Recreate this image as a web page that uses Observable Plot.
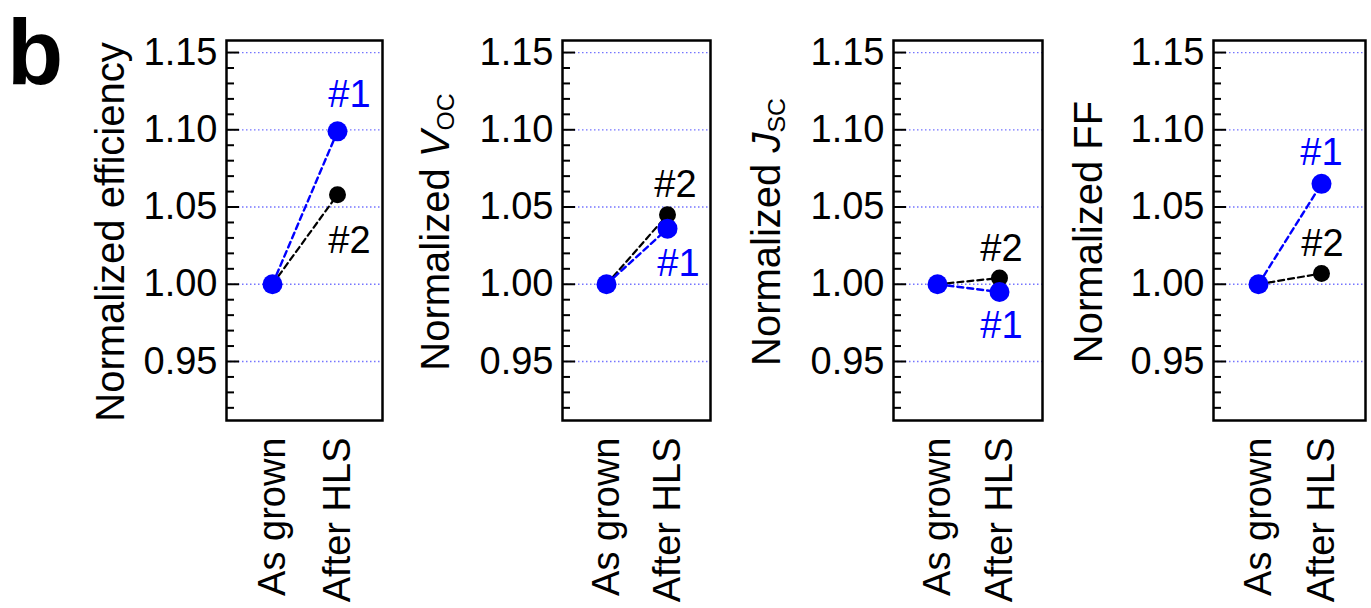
<!DOCTYPE html>
<html><head><meta charset="utf-8">
<script src="https://cdn.jsdelivr.net/npm/d3@7"></script>
<script src="https://cdn.jsdelivr.net/npm/@observablehq/plot@0.6"></script>
<style>
html,body{margin:0;padding:0;background:#fff;}
#chart{position:relative;width:1371px;height:608px;overflow:hidden;font-family:Arial,"Liberation Sans",sans-serif;color:#000;}
.panel{position:absolute;top:0;}
.ytitle{position:absolute;white-space:nowrap;font-size:40px;line-height:1;transform:translate(-50%,-50%) rotate(-90deg);}
.ytitle sub{font-size:0.62em;vertical-align:-0.18em;}
.letter{position:absolute;left:7px;top:1px;font-size:92px;font-weight:bold;line-height:1.12;}
</style></head><body><div id="chart"></div>
<script>
// ---- data ----
const stages = ["As grown", "After HLS"];
const sampleNames = ["#1", "#2"];
const asGrown1  = [1.000, 1.000, 1.000, 1.000];
const afterHLS1 = [1.099, 1.036, 0.995, 1.065];
const asGrown2  = [1.000, 1.000, 1.000, 1.000];
const afterHLS2 = [1.058, 1.045, 1.004, 1.007];
const yMajorTicks = [0.95, 1.00, 1.05, 1.10, 1.15];
const yMinorTicks = [0.92, 0.93, 0.94, 0.96, 0.97, 0.98, 0.99, 1.01, 1.02, 1.03, 1.04, 1.06, 1.07, 1.08, 1.09, 1.11, 1.12, 1.13, 1.14];
const yTitles = ["Normalized efficiency", "Normalized <i>V</i><sub>OC</sub>", "Normalized <i>J</i><sub>SC</sub>", "Normalized FF"];
const panelLetter = "b";

// ---- layout (pixels) ----
const layout = [
  {left: 226, w: 156, titleX: 110, lab1: {dx: 12, dy: -37}, lab2: {dx: 12, dy: 46}},
  {left: 562, w: 148, titleX: 437, lab1: {dx: 11, dy: 35}, lab2: {dx: 8, dy: -30}},
  {left: 893, w: 149, titleX: 768, lab1: {dx: 2, dy: 34}, lab2: {dx: 2, dy: -29}},
  {left: 1213, w: 152, titleX: 1088, lab1: {dx: 0, dy: -31}, lab2: {dx: 1, dy: -30}}
];
const BLUE = "#0000ff";
const chart = document.getElementById("chart");

const letter = document.createElement("div");
letter.className = "letter";
letter.textContent = panelLetter;
chart.appendChild(letter);

layout.forEach((L, i) => {
  const s1 = [{stage: stages[0], value: asGrown1[i]}, {stage: stages[1], value: afterHLS1[i]}];
  const s2 = [{stage: stages[0], value: asGrown2[i]}, {stage: stages[1], value: afterHLS2[i]}];
  const ML = 100, MR = 3;
  const plot = Plot.plot({
    width: ML + L.w + MR, height: 608,
    marginLeft: ML, marginRight: MR, marginTop: 40, marginBottom: 188,
    style: {fontFamily: 'Arial, "Liberation Sans", sans-serif', fontSize: "38px", color: "#000", background: "transparent", overflow: "visible"},
    x: {type: "point", domain: stages, padding: 0.7},
    y: {domain: [0.9118, 1.1578]},
    marks: [
      Plot.ruleY(yMajorTicks, {stroke: "#7474ff", strokeWidth: 1.3, strokeDasharray: "1.5,2.5"}),
      Plot.tickY(yMinorTicks, {y: d => d, stroke: "#000", strokeWidth: 2, insetRight: L.w - 8}),
      Plot.tickY(yMajorTicks, {y: d => d, stroke: "#000", strokeWidth: 2, insetRight: L.w - 13}),
      Plot.line(s2, {x: "stage", y: "value", stroke: "#000", strokeWidth: 2.2, strokeDasharray: "6,4"}),
      Plot.line(s1, {x: "stage", y: "value", stroke: BLUE, strokeWidth: 2.4, strokeDasharray: "6,4"}),
      Plot.dot(s2, {x: "stage", y: "value", r: 8.5, fill: "#000"}),
      Plot.dot(s1, {x: "stage", y: "value", r: 10, fill: BLUE}),
      Plot.text([s1[1]], {x: "stage", y: "value", text: () => sampleNames[0], fill: BLUE, dx: L.lab1.dx, dy: L.lab1.dy, fontSize: 38}),
      Plot.text([s2[1]], {x: "stage", y: "value", text: () => sampleNames[1], fill: "#000", dx: L.lab2.dx, dy: L.lab2.dy, fontSize: 38}),
      Plot.frame({stroke: "#000", strokeWidth: 2.5}),
      Plot.axisY({ticks: yMajorTicks, tickSize: 0, tickPadding: 9, tickFormat: d3.format(".2f"), label: null}),
      Plot.axisX({tickSize: 0, tickPadding: 17, tickRotate: -90, label: null})
    ]
  });
  plot.classList.add("panel");
  plot.style.left = (L.left - ML) + "px";
  chart.appendChild(plot);

  const t = document.createElement("div");
  t.className = "ytitle";
  t.innerHTML = yTitles[i];
  t.style.left = L.titleX + "px";
  t.style.top = "232px";
  chart.appendChild(t);
});
</script>
</body></html>
